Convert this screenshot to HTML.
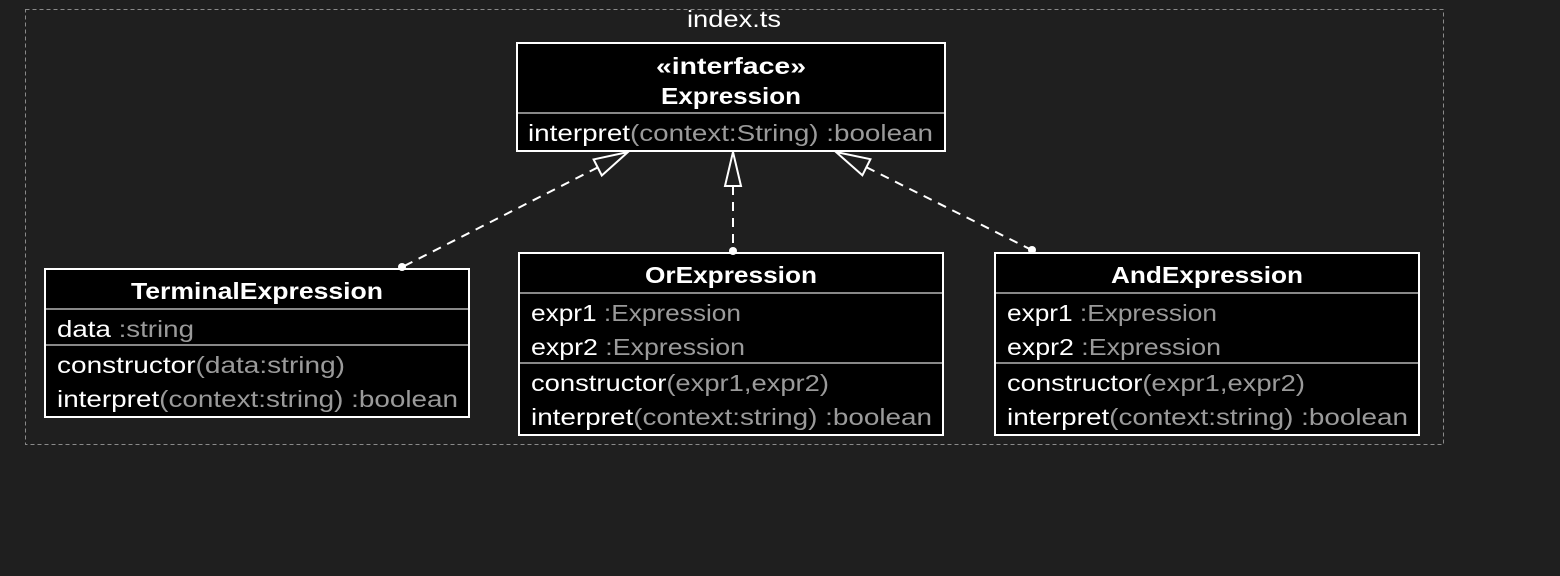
<!DOCTYPE html>
<html><head><meta charset="utf-8"><style>
html,body{margin:0;padding:0;background:#1f1f1f;}
svg{display:block;}
text{font-family:"Liberation Sans",sans-serif;font-size:23px;fill:#fff;}
.g{fill:#9a9a9a;}
.b{font-weight:bold;}
</style></head><body>
<svg width="1560" height="576" viewBox="0 0 1560 576">
<rect x="0" y="0" width="1560" height="576" fill="#1f1f1f"/>
<rect x="25.5" y="9.5" width="1418" height="435" fill="none" stroke="#8a8a8a" stroke-width="1" stroke-dasharray="4,3"/>
<text x="734" y="27" text-anchor="middle" textLength="94" lengthAdjust="spacingAndGlyphs">index.ts</text>

<!-- Interface -->
<rect x="517" y="43" width="428" height="108" fill="#000" stroke="#fff" stroke-width="2"/>
<line x1="518" y1="113" x2="944" y2="113" stroke="#888" stroke-width="2"/>
<text x="731" y="74" text-anchor="middle" class="b" textLength="150" lengthAdjust="spacingAndGlyphs">«interface»</text>
<text x="731" y="104" text-anchor="middle" class="b" textLength="140" lengthAdjust="spacingAndGlyphs">Expression</text>
<text x="528" y="141" textLength="405" lengthAdjust="spacingAndGlyphs">interpret<tspan class="g">(context:String) :boolean</tspan></text>

<!-- Terminal -->
<rect x="45" y="269" width="424" height="148" fill="#000" stroke="#fff" stroke-width="2"/>
<line x1="46" y1="309" x2="468" y2="309" stroke="#888" stroke-width="2"/>
<line x1="46" y1="345" x2="468" y2="345" stroke="#888" stroke-width="2"/>
<text x="257" y="299" text-anchor="middle" class="b" textLength="252" lengthAdjust="spacingAndGlyphs">TerminalExpression</text>
<text x="57" y="337" textLength="137" lengthAdjust="spacingAndGlyphs">data <tspan class="g">:string</tspan></text>
<text x="57" y="373" textLength="288" lengthAdjust="spacingAndGlyphs">constructor<tspan class="g">(data:string)</tspan></text>
<text x="57" y="407" textLength="401" lengthAdjust="spacingAndGlyphs">interpret<tspan class="g">(context:string) :boolean</tspan></text>

<!-- Or -->
<rect x="519" y="253" width="424" height="182" fill="#000" stroke="#fff" stroke-width="2"/>
<line x1="520" y1="293" x2="942" y2="293" stroke="#888" stroke-width="2"/>
<line x1="520" y1="363" x2="942" y2="363" stroke="#888" stroke-width="2"/>
<text x="731" y="283" text-anchor="middle" class="b" textLength="172" lengthAdjust="spacingAndGlyphs">OrExpression</text>
<text x="531" y="321" textLength="210" lengthAdjust="spacingAndGlyphs">expr1 <tspan class="g">:Expression</tspan></text>
<text x="531" y="355" textLength="214" lengthAdjust="spacingAndGlyphs">expr2 <tspan class="g">:Expression</tspan></text>
<text x="531" y="391" textLength="298" lengthAdjust="spacingAndGlyphs">constructor<tspan class="g">(expr1,expr2)</tspan></text>
<text x="531" y="425" textLength="401" lengthAdjust="spacingAndGlyphs">interpret<tspan class="g">(context:string) :boolean</tspan></text>

<!-- And -->
<rect x="995" y="253" width="424" height="182" fill="#000" stroke="#fff" stroke-width="2"/>
<line x1="996" y1="293" x2="1418" y2="293" stroke="#888" stroke-width="2"/>
<line x1="996" y1="363" x2="1418" y2="363" stroke="#888" stroke-width="2"/>
<text x="1207" y="283" text-anchor="middle" class="b" textLength="192" lengthAdjust="spacingAndGlyphs">AndExpression</text>
<text x="1007" y="321" textLength="210" lengthAdjust="spacingAndGlyphs">expr1 <tspan class="g">:Expression</tspan></text>
<text x="1007" y="355" textLength="214" lengthAdjust="spacingAndGlyphs">expr2 <tspan class="g">:Expression</tspan></text>
<text x="1007" y="391" textLength="298" lengthAdjust="spacingAndGlyphs">constructor<tspan class="g">(expr1,expr2)</tspan></text>
<text x="1007" y="425" textLength="401" lengthAdjust="spacingAndGlyphs">interpret<tspan class="g">(context:string) :boolean</tspan></text>

<!-- connectors -->
<g stroke="#fff" stroke-width="2" fill="none">
  <!-- Terminal -->
  <g transform="translate(628,152) rotate(153)">
    <line x1="34" y1="0" x2="253" y2="0" stroke-dasharray="9,7"/>
    <polygon points="0,0 34,-9 34,9" fill="#1f1f1f"/>
  </g>
  <!-- Or -->
  <g transform="translate(733,152) rotate(90)">
    <line x1="34" y1="0" x2="98" y2="0" stroke-dasharray="9,7"/>
    <polygon points="0,0 34,-8 34,8" fill="#1f1f1f"/>
  </g>
  <!-- And -->
  <g transform="translate(836,152) rotate(26.6)">
    <line x1="34" y1="0" x2="219" y2="0" stroke-dasharray="9,7"/>
    <polygon points="0,0 34,-9 34,9" fill="#1f1f1f"/>
  </g>
</g>
<circle cx="402" cy="267" r="4" fill="#fff"/>
<circle cx="733" cy="251" r="4" fill="#fff"/>
<circle cx="1032" cy="250" r="4" fill="#fff"/>
</svg>
</body></html>
